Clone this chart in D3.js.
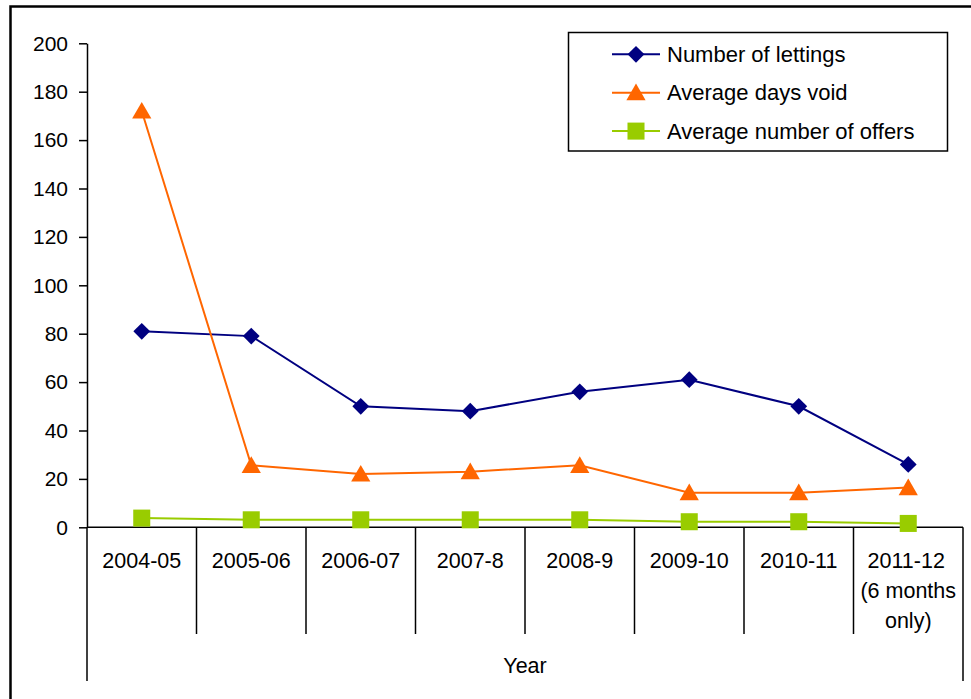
<!DOCTYPE html>
<html>
<head>
<meta charset="utf-8">
<script src="https://cdn.jsdelivr.net/npm/d3@7"></script>
<style>
  html, body { margin: 0; padding: 0; background: #fff; }
  svg { display: block; }
  text { font-family: "Liberation Sans", Arial, sans-serif; fill: #000; }
</style>
</head>
<body>
<svg id="chart" width="971" height="699"></svg>
<script>
const categories = ["2004-05", "2005-06", "2006-07", "2007-8", "2008-9", "2009-10", "2010-11", "2011-12\n(6 months\nonly)"];
const lettings = [81, 79, 50, 48, 56, 61, 50, 26];
const daysVoid = [172, 25.6, 22, 23, 25.6, 14.3, 14.3, 16.4];
const offers = [3.8, 3.1, 3.1, 3.1, 3.1, 2.3, 2.3, 1.6];
const yTicks = [0, 20, 40, 60, 80, 100, 120, 140, 160, 180, 200];
const seriesNames = ["Number of lettings", "Average days void", "Average number of offers"];
const xTitle = "Year";

(function () {
const series = [
  { name: seriesNames[0], values: lettings, color: "#000080", symbol: d3.symbolDiamond2 },
  { name: seriesNames[1], values: daysVoid, color: "#FF6600", symbol: d3.symbolTriangle },
  { name: seriesNames[2], values: offers, color: "#99CC00", symbol: d3.symbolSquare }
];

const svg = d3.select("#chart");
const pLeft = 87, pRight = 963, pTop = 43.3, pBottom = 527.3;

const x = d3.scaleBand().domain(categories).range([pLeft, pRight]).padding(0);
const y = d3.scaleLinear().domain([0, 200]).range([pBottom, pTop]);

// outer frame
svg.append("rect").attr("x", 10.5).attr("y", 6.5).attr("width", 1200).attr("height", 1200)
  .attr("fill", "none").attr("stroke", "#000").attr("stroke-width", 2.5);

// y axis
const yAxis = svg.append("g").attr("transform", `translate(${pLeft},0)`)
  .call(d3.axisLeft(y).tickValues(yTicks).tickSize(8).tickPadding(11).tickSizeOuter(0));
yAxis.select(".domain").attr("stroke", "#000").attr("stroke-width", 1.5);
yAxis.selectAll(".tick line").attr("stroke", "#000").attr("stroke-width", 1.5);
yAxis.selectAll(".tick text").style("font-size", "21px").attr("fill", "#000")
  .style("font-family", "'Liberation Sans', Arial, sans-serif");

// x axis line
svg.append("line").attr("x1", pLeft).attr("x2", pRight).attr("y1", pBottom).attr("y2", pBottom)
  .attr("stroke", "#000").attr("stroke-width", 1.5);

// category dividers
const bounds = categories.map(c => x(c)).concat([pRight]);
svg.append("g").selectAll("line").data(bounds).join("line")
  .attr("x1", d => d).attr("x2", d => d)
  .attr("y1", pBottom)
  .attr("y2", (d, i) => (i === 0 || i === bounds.length - 1) ? 681 : 634)
  .attr("stroke", "#000").attr("stroke-width", 1.5);

// category labels
const catG = svg.append("g");
categories.forEach(c => {
  const lines = c.split("\n");
  const t = catG.append("text").attr("text-anchor", "middle")
    .attr("x", x(c) + x.bandwidth() / 2).attr("y", 568)
    .style("font-size", "21.5px");
  lines.forEach((ln, i) => {
    t.append("tspan").attr("x", x(c) + x.bandwidth() / 2 - (i === 0 && lines.length > 1 ? 2 : 0))
      .attr("dy", i === 0 ? 0 : 30).text(ln);
  });
});

// axis title
svg.append("text").attr("x", (pLeft + pRight) / 2).attr("y", 673).attr("text-anchor", "middle")
  .style("font-size", "21.5px").text(xTitle);

// series
const line = d3.line().x((d, i) => x(categories[i]) + x.bandwidth() / 2).y(d => y(d));
series.forEach(s => {
  svg.append("path").datum(s.values).attr("d", line)
    .attr("fill", "none").attr("stroke", s.color).attr("stroke-width", 2);
});
const symSize = s => s.symbol === d3.symbolTriangle ? 160 : (s.symbol === d3.symbolSquare ? 290 : 180);
series.forEach(s => {
  svg.append("g").selectAll("path").data(s.values).join("path")
    .attr("d", d3.symbol().type(s.symbol).size(symSize(s)))
    .attr("transform", (d, i) => {
      const cx = x(categories[i]) + x.bandwidth() / 2;
      const cy = y(d) + (s.symbol === d3.symbolTriangle ? 2 : 0);
      return `translate(${cx},${cy})`;
    })
    .attr("fill", s.color);
});

// legend
const lg = svg.append("g");
lg.append("rect").attr("x", 568.5).attr("y", 32.5).attr("width", 379).attr("height", 118.5)
  .attr("fill", "#fff").attr("stroke", "#000").attr("stroke-width", 1.5);
series.forEach((s, i) => {
  const ly = 54.3 + i * 38.4;
  lg.append("line").attr("x1", 612).attr("x2", 660).attr("y1", ly).attr("y2", ly)
    .attr("stroke", s.color).attr("stroke-width", 2);
  lg.append("path").attr("d", d3.symbol().type(s.symbol).size(symSize(s)))
    .attr("transform", `translate(636,${ly + (s.symbol === d3.symbolTriangle ? 2 : 0)})`)
    .attr("fill", s.color);
  lg.append("text").attr("x", 667).attr("y", ly + 7.5).style("font-size", "22px").text(s.name);
});
})();
</script>
</body>
</html>
